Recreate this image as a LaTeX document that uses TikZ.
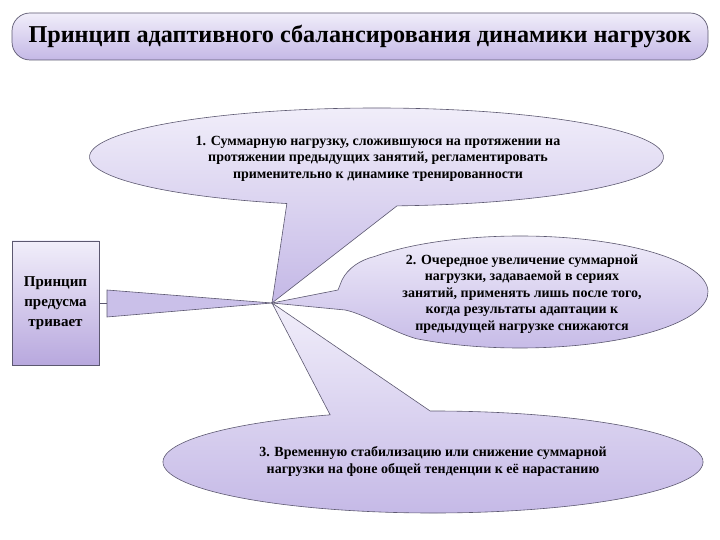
\documentclass[tikz,border=0pt]{standalone}
\usepackage{fontspec}
\setmainfont{Liberation Serif}
\usetikzlibrary{positioning,calc}
\definecolor{LilaBorde}{RGB}{92,88,112}
\definecolor{LilaClaro}{RGB}{241,238,250}
\definecolor{LilaMedio}{RGB}{196,184,230}
\definecolor{LilaOscuro}{RGB}{184,168,222}
\definecolor{LilaCuna}{RGB}{202,192,233}
\tikzset{
  titlebox/.style={draw=LilaBorde, line width=0.7pt, rounded corners=18pt,
    top color=LilaClaro, bottom color=LilaMedio, minimum width=696pt, minimum height=47pt,
    font=\fontsize{24.2}{28}\selectfont\bfseries, inner sep=0pt},
  leftbox/.style={draw=LilaBorde, line width=0.6pt, top color=LilaClaro, bottom color=LilaOscuro,
    minimum width=87pt, minimum height=124pt, align=center,
    font=\fontsize{15}{20}\selectfont\bfseries, inner sep=0pt},
  callout/.style={draw=LilaBorde, line width=0.6pt, top color=LilaClaro, bottom color=LilaMedio},
  wedgefill/.style={draw=LilaBorde, line width=0.6pt, fill=LilaCuna},
  linkline/.style={draw=LilaBorde, line width=0.6pt},
  calltext/.style={align=center, font=\fontsize{14}{16.4}\selectfont\bfseries, inner sep=0pt},
}
\begin{document}
\begin{tikzpicture}[x=1pt, y=1pt]
  \useasboundingbox (0,0) rectangle (720,540);
  % cabecera
  \node[titlebox] (title) at (360,503.5) {Принцип адаптивного сбалансирования динамики нагрузок};
  % bloque izquierdo y cuña
  \node[leftbox] (principle) at (55.5,237) {Принцип\\предусма\\тривает};
  \coordinate (hub) at (272,237);
  \coordinate (wedgetop) at (107,250);
  \coordinate (wedgebot) at (107,223);
  \coordinate (wedgemid) at (107,237);
  \path[wedgefill] (wedgetop) -- (hub) -- (wedgebot) -- cycle;
  \draw[linkline] (principle.east) -- (wedgemid);
  % bocadillo 1
  \coordinate (c1) at (376.5,383);
  \path[callout] (c1) ++(274.1:287 and 49)
    arc[start angle=274.1, end angle=611.8, x radius=287, y radius=49] -- (hub) -- cycle;
  % bocadillo 2
  \coordinate (c2) at (520,248);
  \path[callout] (c2) ++(-123.2:188 and 56)
    arc[start angle=-123.2, end angle=140.4, x radius=188, y radius=56]
    .. controls (360,280) and (348,272) .. (342,260) -- (338,250) -- (hub)
    -- (345,230) .. controls (365,226) and (392,208) .. (417,201.1) -- cycle;
  % bocadillo 3
  \coordinate (c3) at (433,78);
  \path[callout] (c3) ++(112.4:270 and 51)
    arc[start angle=112.4, end angle=450.6, x radius=270, y radius=51] -- (hub) -- cycle;
  % textos
  \node[calltext] (item1) at (378,381.5) {1. Суммарную нагрузку, сложившуюся на протяжении на\\
    протяжении предыдущих занятий, регламентировать\\применительно к динамике тренированности};
  \node[calltext] (item2) at (522,246) {2. Очередное увеличение суммарной\\нагрузки, задаваемой в сериях\\
    занятий, применять лишь после того,\\когда результаты адаптации к\\предыдущей нагрузке снижаются};
  \node[calltext] (item3) at (433,78.5) {3. Временную стабилизацию или снижение суммарной\\
    нагрузки на фоне общей тенденции к её нарастанию};
\end{tikzpicture}
\end{document}
